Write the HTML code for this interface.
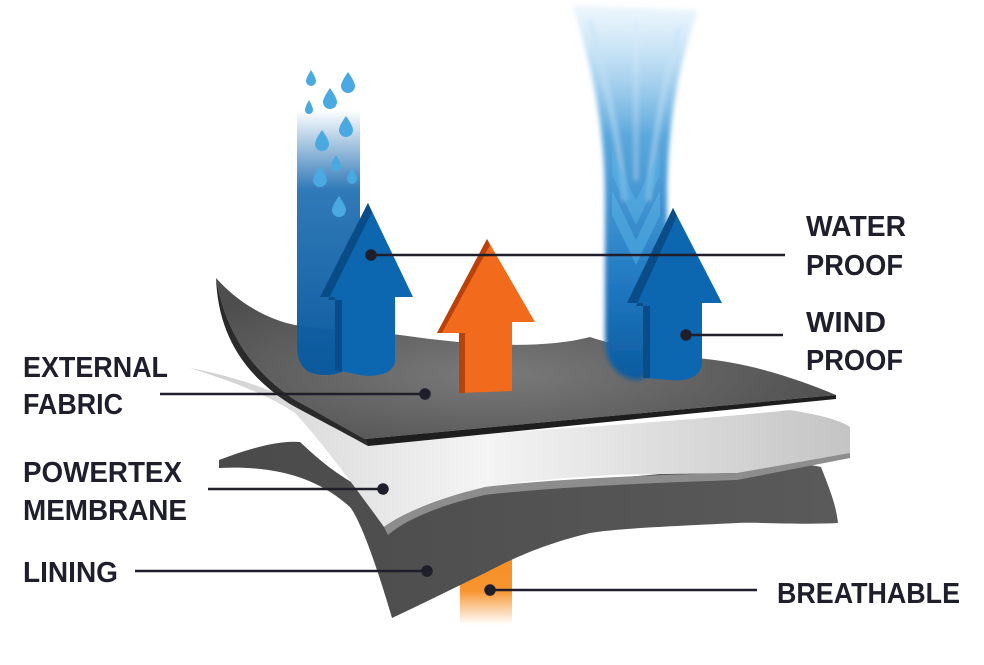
<!DOCTYPE html>
<html><head><meta charset="utf-8"><style>
html,body{margin:0;padding:0;background:#fff;width:984px;height:665px;overflow:hidden}
svg{display:block}
text{font-family:"Liberation Sans Narrow","Liberation Sans",sans-serif;font-weight:bold;font-size:29px;fill:#1f1f2b}
</style></head><body>
<svg width="984" height="665" viewBox="0 0 984 665" xmlns="http://www.w3.org/2000/svg">
<defs>
<linearGradient id="lin" x1="0" y1="0" x2="1" y2="0"><stop offset="0" stop-color="#4a4a4a"/><stop offset="1" stop-color="#5a5a5a"/></linearGradient>
<linearGradient id="mem" x1="0" y1="0" x2="1" y2="0"><stop offset="0" stop-color="#cfcfcf"/><stop offset="0.45" stop-color="#f4f4f4"/><stop offset="1" stop-color="#c4c4c4"/></linearGradient>
<radialGradient id="top" cx="0.45" cy="0.6" r="0.6"><stop offset="0" stop-color="#7a7a7a"/><stop offset="1" stop-color="#4e4e4e"/></radialGradient>
<linearGradient id="colL" x1="0" y1="0" x2="0" y2="1"><stop offset="0" stop-color="#1a6bb0" stop-opacity="0"/><stop offset="0.3" stop-color="#1a6bb0" stop-opacity="0.9"/><stop offset="1" stop-color="#0b5a9e"/></linearGradient>
<linearGradient id="colR" x1="0" y1="0" x2="0" y2="1"><stop offset="0" stop-color="#8cc8ee" stop-opacity="0.15"/><stop offset="0.35" stop-color="#3d98d6" stop-opacity="0.85"/><stop offset="0.75" stop-color="#1f78c0"/><stop offset="1" stop-color="#0b5a9e"/></linearGradient>
<linearGradient id="orB" x1="0" y1="0" x2="0" y2="1"><stop offset="0" stop-color="#f58a1e"/><stop offset="0.6" stop-color="#f7952f"/><stop offset="1" stop-color="#f8a04a" stop-opacity="0"/></linearGradient>
<filter id="bl" x="-20%" y="-20%" width="140%" height="140%"><feGaussianBlur stdDeviation="2.5"/></filter>
</defs>

<!-- bottom orange bar -->
<rect x="460" y="540" width="52" height="85" fill="url(#orB)"/>

<!-- lining -->
<path d="M219,460 C250,448 280,440 300,442 C330,470 345,480 385,500 C480,490 600,480 700,470 C760,465 800,462 821,467 C830,490 836,505 838,523 C800,525 760,522 737,523 C680,526 620,528 590,533 C540,545 510,560 485,573 C450,590 420,605 392,618 C375,560 360,520 350,507 C320,480 280,465 219,468 Z" fill="url(#lin)"/>

<!-- membrane -->
<path d="M190,368 C280,385 330,420 370,440 C520,432 700,420 790,410 C820,415 840,420 850,427 L850,453 C810,462 770,470 737,473 C680,474 640,474 611,475 C560,478 520,482 485,487 C440,498 405,512 384,527 C350,480 320,440 295,413 C260,390 220,378 190,368 Z" fill="url(#mem)"/>
<path d="M384,527 C405,512 440,498 485,487 C560,478 680,474 737,473 L850,453 L850,458 L737,480 C680,482 560,486 485,495 C440,505 405,520 388,535 Z" fill="#8d8d8d"/>

<!-- top fabric -->
<path d="M216,278 C240,305 270,320 295,325 C330,330 370,332 400,335 C470,345 540,350 590,337 C630,350 670,356 695,358 C750,362 800,380 836,395 L365,439 C330,420 305,405 295,400 C250,370 225,330 216,278 Z" fill="url(#top)"/>
<path d="M365,439 L836,395 L836,399 L368,446 Z" fill="#1e1e1e"/>
<path d="M216,278 C225,330 250,370 295,400 C305,405 330,420 365,439 L368,446 C330,425 300,410 290,404 C240,372 218,330 216,278 Z" fill="#2a2a2a"/>

<!-- left blue column -->
<path d="M297,110 L360,110 L360,340 C360,360 350,375 325,375 C305,375 297,365 297,345 Z" fill="url(#colL)"/>
<path d="M335,297 L320,297 L368,203 L413,297 L395,297 L395,360 C395,372 380,378 360,375 L335,370 Z" fill="#0d66b0"/>
<path d="M368,203 L320,297 L335,297 L335,370 L342,372 L342,300 L328,300 L372,212 Z" fill="#094c88"/>
<!-- droplets -->
<g fill="#4aa9e0">
<path d="M311,70 q-5,8 -5,11 a5,5 0 0 0 10,0 q0,-3 -5,-11z"/>
<path d="M348,72 q-7,10 -7,14 a7,7 0 0 0 14,0 q0,-4 -7,-14z"/>
<path d="M330,88 q-7,10 -7,14 a7,7 0 0 0 14,0 q0,-4 -7,-14z"/>
<path d="M309,100 q-4,7 -4,10 a4,4 0 0 0 8,0 q0,-3 -4,-10z"/>
<path d="M346,116 q-7,10 -7,14 a7,7 0 0 0 14,0 q0,-4 -7,-14z"/>
<path d="M322,130 q-7,10 -7,14 a7,7 0 0 0 14,0 q0,-4 -7,-14z"/>
<path d="M336,155 q-5,8 -5,11 a5,5 0 0 0 10,0 q0,-3 -5,-11z"/>
<path d="M352,168 q-5,8 -5,11 a5,5 0 0 0 10,0 q0,-3 -5,-11z"/>
<path d="M320,166 q-7,10 -7,14 a7,7 0 0 0 14,0 q0,-4 -7,-14z"/>
<path d="M339,196 q-7,10 -7,14 a7,7 0 0 0 14,0 q0,-4 -7,-14z"/>
</g>

<!-- right blue column with spray -->
<g filter="url(#bl)">
<path d="M572,5 C590,60 605,120 605,200 L605,340 C605,365 620,380 640,380 L667,360 L667,200 C667,120 680,60 698,10 Z" fill="url(#colR)"/>
<path d="M590,20 C605,80 618,130 625,200" stroke="#bfe2f7" stroke-width="4" fill="none" opacity="0.6"/>
<path d="M680,25 C665,80 655,130 648,200" stroke="#bfe2f7" stroke-width="4" fill="none" opacity="0.6"/>
<path d="M636,20 L636,180" stroke="#cfe9f9" stroke-width="3" fill="none" opacity="0.5"/>
</g>
<path d="M612,150 L636,200 L660,150 L660,175 L636,225 L612,175 Z M612,190 L636,240 L660,190 L660,215 L636,265 L612,215 Z" fill="#5ab3e6" opacity="0.5"/>
<path d="M643,303 L627,303 L673,208 L722,303 L702,303 L702,362 C702,375 690,382 670,380 L643,378 Z" fill="#0d66b0"/>
<path d="M673,208 L627,303 L643,303 L643,378 L650,378 L650,306 L636,306 L677,216 Z" fill="#094c88"/>

<!-- orange arrow -->
<path d="M487,239 L535,322 L512,322 L512,391 L459,393 L459,333 L437,333 Z" fill="#f26a1b"/>
<path d="M487,239 L437,333 L442,333 L490,245 Z M459,333 L459,393 L465,393 L465,333 Z" fill="#b8410c"/>

<!-- leader lines -->
<g stroke="#1f1f2b" stroke-width="2.5" fill="#1f1f2b">
<line x1="371" y1="255" x2="785" y2="255"/><circle cx="371" cy="255" r="4.5"/>
<line x1="686" y1="335" x2="783" y2="335"/><circle cx="686" cy="335" r="4.5"/>
<line x1="160" y1="394" x2="425" y2="394"/><circle cx="425" cy="394" r="4.5"/>
<line x1="208" y1="489" x2="383" y2="489"/><circle cx="383" cy="489" r="4.5"/>
<line x1="135" y1="571" x2="427" y2="571"/><circle cx="427" cy="571" r="4.5"/>
<line x1="490" y1="590" x2="757" y2="590"/><circle cx="490" cy="590" r="4.5"/>
</g>

<!-- labels -->
<text x="23" y="377" textLength="145" lengthAdjust="spacingAndGlyphs">EXTERNAL</text>
<text x="23" y="414" textLength="100" lengthAdjust="spacingAndGlyphs">FABRIC</text>
<text x="23" y="482" textLength="159" lengthAdjust="spacingAndGlyphs">POWERTEX</text>
<text x="23" y="520" textLength="164" lengthAdjust="spacingAndGlyphs">MEMBRANE</text>
<text x="23" y="582" textLength="95" lengthAdjust="spacingAndGlyphs">LINING</text>
<text x="806" y="236" textLength="100" lengthAdjust="spacingAndGlyphs">WATER</text>
<text x="806" y="275" textLength="97" lengthAdjust="spacingAndGlyphs">PROOF</text>
<text x="806" y="332" textLength="80" lengthAdjust="spacingAndGlyphs">WIND</text>
<text x="806" y="370" textLength="97" lengthAdjust="spacingAndGlyphs">PROOF</text>
<text x="777" y="603" textLength="183" lengthAdjust="spacingAndGlyphs">BREATHABLE</text>
</svg>
</body></html>
